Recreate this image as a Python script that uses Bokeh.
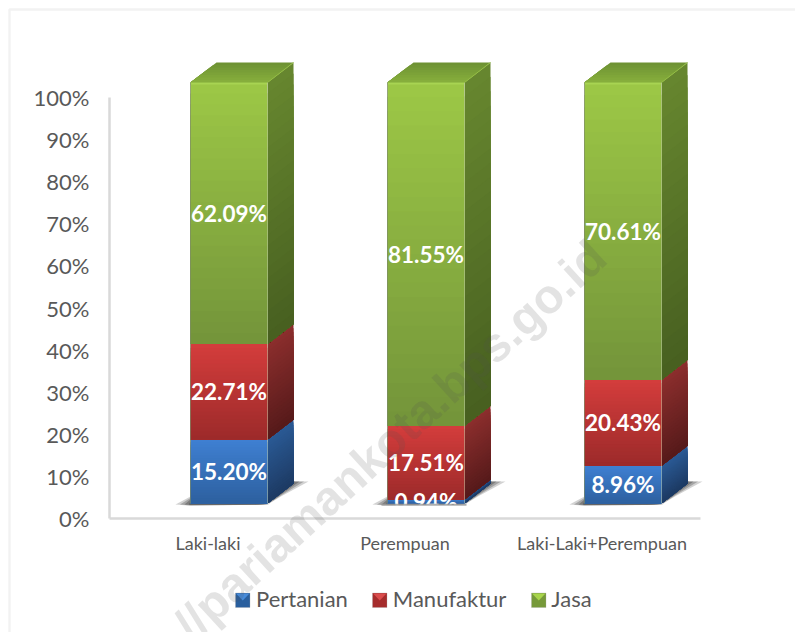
from bokeh.embed import file_html
from bokeh.resources import INLINE
from bokeh.plotting import figure
from bokeh.models import (Range1d, FixedTicker, Label, BoxAnnotation, PolyAnnotation,
                          Legend, LegendItem, ColumnDataSource)
from bokeh.core.properties import value

categories = ["Laki-laki", "Perempuan", "Laki-Laki+Perempuan"]
series_names = ["Pertanian", "Manufaktur", "Jasa"]
pertanian = [15.20, 0.94, 8.96]
manufaktur = [22.71, 17.51, 20.43]
jasa = [62.09, 81.55, 70.61]
y_ticks = [0, 10, 20, 30, 40, 50, 60, 70, 80, 90, 100]
watermark = "//pariamankota.bps.go.id"

W, H = 795, 632
PX_Y = 4.21     # pixels per percent
PX_X = 197.0    # pixels per category
AX_X, AX_Y = 109, 518  # where the axes cross, in pixels
ux = 1 / PX_X
uy = 1 / PX_Y

front_w = 77 * ux
shift = 21 * ux
base = 15 * uy
dx = 26 * ux
dy = 20 * uy
STRIPS = 24

front_cols = [("#3F80D2", "#2D609F"), ("#D43D3C", "#9C2A2A"), ("#9DC846", "#73943A")]
side_cols = [("#2A5A95", "#1D3A63"), ("#8C2E2D", "#561A1A"), ("#67872F", "#475F20")]
legend_cols = ["#2A5F9E", "#A52C2C", "#76993A"]
legend_light = ["#4A90E0", "#E05050", "#AEDB4E"]


def mix(c1, c2, t):
    a = [int(c1[i:i + 2], 16) for i in (1, 3, 5)]
    b = [int(c2[i:i + 2], 16) for i in (1, 3, 5)]
    return "#%02x%02x%02x" % tuple(round(a[k] + (b[k] - a[k]) * t) for k in range(3))


p = figure(width=W, height=H, output_backend="svg", toolbar_location=None,
           x_range=Range1d(-AX_X * ux, (W - AX_X) * ux),
           y_range=Range1d((AX_Y - H) * uy, AX_Y * uy),
           min_border=0,
           background_fill_color="white", border_fill_color="white", outline_line_color=None)
p.grid.visible = False

# axes
xa = p.xaxis[0]
xa.fixed_location = 0
xa.ticker = FixedTicker(ticks=[0.5, 1.5, 2.5])
xa.major_label_overrides = {0.5 + i: c for i, c in enumerate(categories)}
xa.bounds = (0, 3)
xa.axis_line_color = "#D9D9D9"
xa.axis_line_width = 2.5
xa.major_tick_line_color = None
xa.minor_tick_line_color = None
xa.major_label_text_font = "Lato"
xa.major_label_text_font_size = "18px"
xa.major_label_text_color = "#595959"
xa.major_label_standoff = 7

ya = p.yaxis[0]
ya.fixed_location = 0
ya.ticker = FixedTicker(ticks=y_ticks)
ya.major_label_overrides = {t: f"{t}%" for t in y_ticks}
ya.bounds = (0, 100)
ya.axis_line_color = "#D9D9D9"
ya.axis_line_width = 2.5
ya.major_tick_line_color = None
ya.minor_tick_line_color = None
ya.major_label_text_font = "Lato"
ya.major_label_text_font_size = "22px"
ya.major_label_text_color = "#595959"
ya.major_label_standoff = 14

# chart border
p.add_layout(BoxAnnotation(left=9, right=W + 20, top=9, bottom=H + 20,
                           left_units="canvas", right_units="canvas",
                           top_units="canvas", bottom_units="canvas",
                           fill_color=None, line_color="#D4D4D4", line_width=2.5, level="underlay"))

# bars
series = [pertanian, manufaktur, jasa]
for i in range(len(categories)):
    xc = i + 0.5 + shift
    xl, xr = xc - front_w / 2, xc + front_w / 2

    # floor shadow
    for k, alpha in enumerate([0.22, 0.28, 0.34, 0.40]):
        e = (15 - 4.5 * k) * ux
        low = (3.5 - k) * uy
        # right of the side face: a wedge running to a tip past the back corner
        p.patch([xr, xr + dx * 0.55, xr + dx + e, xr + dx, xr + dx * 0.5],
                [base - 1 * uy, base + dy * 0.55 - low, base + dy + 2 * uy, base + dy + 2 * uy, base + dy * 0.5],
                fill_color="#303030", fill_alpha=alpha, line_color=None)
        # left of the front face and under it
        p.patch([xl - e, xl, xr + 2 * ux, xl],
                [base - 1 * uy, base + (7 - 1.5 * k) * uy, base - 1.2 * uy, base - (2.2 - 0.3 * k) * uy],
                fill_color="#303030", fill_alpha=alpha, line_color=None)

    start = base
    for s in range(len(series)):
        v = series[s][i]
        end = start + v
        h = v / STRIPS
        fl, fr, fb, ft, fc = [], [], [], [], []
        sx, sy, sc = [], [], []
        # painted from the top down: each strip reaches from its top to the bottom of the
        # segment, so no seams show between strips
        for n in range(STRIPS):
            t = (n + 0.5) / STRIPS
            top = end - n * h
            fl.append(xl); fr.append(xr); ft.append(top); fb.append(start)
            fc.append(mix(*front_cols[s], t))
            sx.append([xr, xr + dx, xr + dx, xr])
            sy.append([start, start + dy, top + dy, top])
            sc.append(mix(*side_cols[s], t))
        p.patches(sx, sy, fill_color=sc, line_color=None)
        p.quad(left=fl, right=fr, top=ft, bottom=fb, fill_color=fc, line_color=None)
        start = end

    total = start
    # top face, painted back to front
    for n in range(8):
        t = 1 - n / 8
        p.patch([xl, xl + dx * t, xr + dx * t, xr],
                [total, total + dy * t, total + dy * t, total],
                fill_color=mix("#6E9233", "#86AE3C", n / 7), line_color=None)
    # bevel highlights
    p.line([xl, xr], [total - 0.25, total - 0.25], line_color="#A8D452", line_width=2)
    p.line([xr, xr + dx], [total, total + dy], line_color="#94BD45", line_width=1)
    p.line([xl, xl], [base, total], line_color="#7C8A66", line_width=1, line_alpha=0.7)
    p.line([xr, xr], [base, total], line_color="#C0CCA8", line_width=1, line_alpha=0.5)

# data labels
lx, ly, lt = [], [], []
for i in range(len(categories)):
    start = base
    for s in range(len(series)):
        v = series[s][i]
        lx.append(i + 0.5 + shift)
        ly.append(start + v / 2)
        lt.append(f"{v:.2f}%")
        start += v
p.text(x=lx, y=ly, text=lt, text_color="white", text_font=value("Lato"),
       text_font_style="bold", text_font_size="22.5px",
       text_align="center", text_baseline="middle")

# the small label is cut off just below the bars, as in the source image
xc2 = 1.5 + shift
p.quad(left=[xc2 - front_w / 2 - 3 * ux], right=[xc2 + front_w / 2 + 3 * ux],
       top=[base - 2 * uy], bottom=[base - 9 * uy], fill_color="white", line_color=None)
p.quad(left=[xc2 - front_w / 2 - 6 * ux], right=[xc2 + front_w / 2 + 2 * ux],
       top=[base - 0.2 * uy], bottom=[base - 2.2 * uy], fill_color="#9A9A9A", fill_alpha=0.8, line_color=None)

# legend
empty = ColumnDataSource(data=dict(left=[], right=[], top=[], bottom=[]))
items = []
for s, name in enumerate(series_names):
    r = p.quad(left="left", right="right", top="top", bottom="bottom", source=empty,
               fill_color=legend_cols[s], line_color="#8C8C8C", line_width=0.5)
    items.append(LegendItem(label=name, renderers=[r]))
leg = Legend(items=items, orientation="horizontal", location=(235, 632 - 612),
             border_line_color=None, background_fill_alpha=0, padding=0, margin=0,
             spacing=24, label_standoff=6, glyph_width=15, glyph_height=15, label_height=20,
             label_text_font="Lato", label_text_font_size="22px", label_text_color="#595959")
p.add_layout(leg, "center")

# legend keys: a small bevelled square
key_x = [235, 372, 531]
for s in range(3):
    kx = key_x[s]
    p.add_layout(BoxAnnotation(left=kx, right=kx + 14.5, top=592.5, bottom=607,
                               left_units="canvas", right_units="canvas",
                               top_units="canvas", bottom_units="canvas",
                               fill_color=legend_cols[s], fill_alpha=1,
                               line_color="#A6A6A6", line_width=1))
    p.add_layout(PolyAnnotation(xs=[kx + 0.5, kx + 14, kx + 7.25], ys=[593, 593, 600],
                                xs_units="canvas", ys_units="canvas",
                                fill_color=legend_light[s], fill_alpha=0.9, line_color=None))

# watermark
p.add_layout(Label(x=598, y=249, x_units="canvas", y_units="canvas", text=watermark, angle=42.5,
                   angle_units="deg", text_font="Liberation Sans", text_font_style="bold",
                   text_font_size="48px", text_color="#505050", text_alpha=0.16,
                   text_align="right", text_baseline="middle"))

open("out.html", "w").write(file_html(p, INLINE))
